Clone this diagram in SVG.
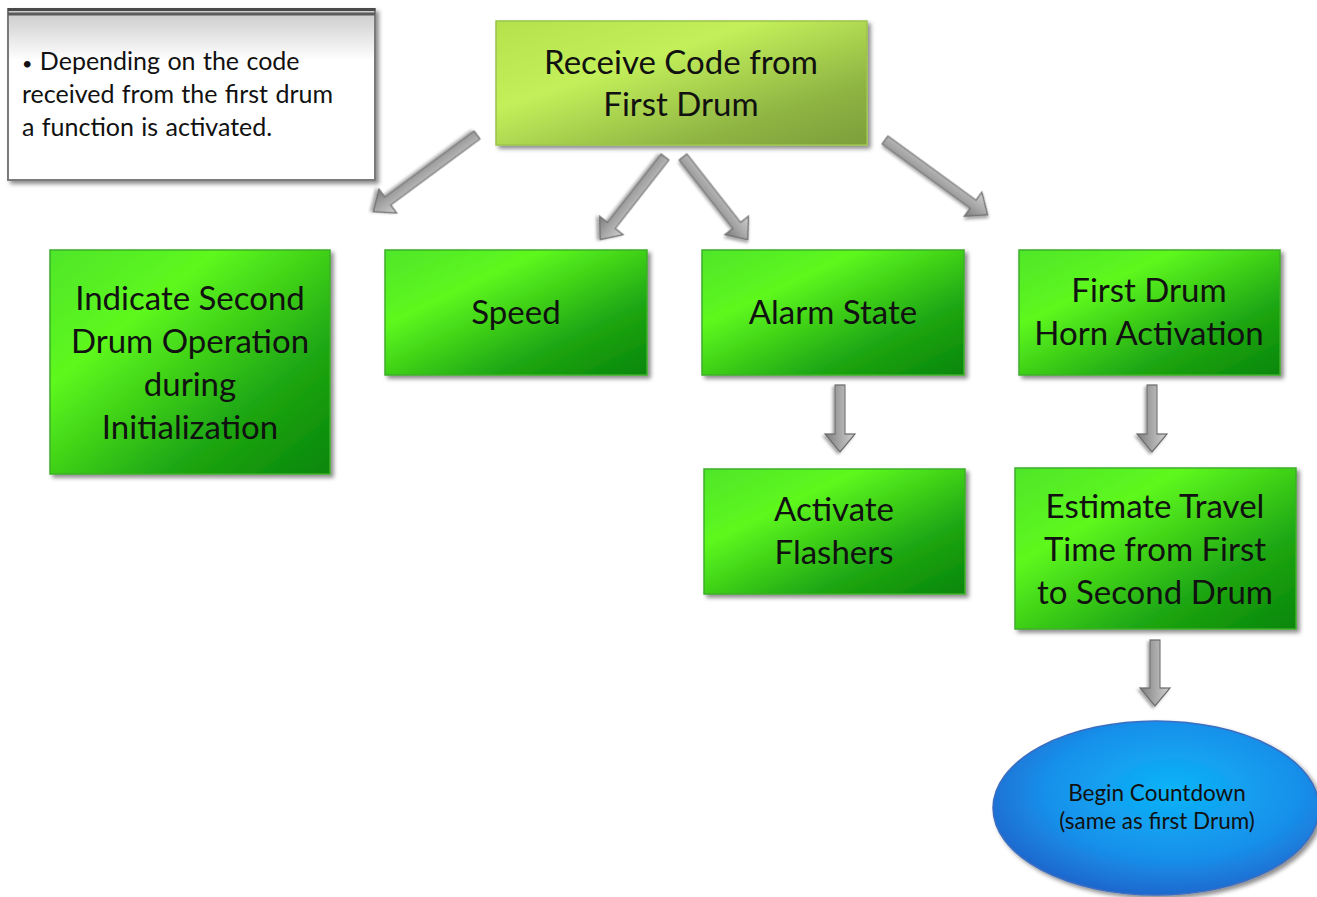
<svg xmlns="http://www.w3.org/2000/svg" width="1317" height="897" viewBox="0 0 1317 897">
<style>
.t{font-family:Lato,"Liberation Sans",sans-serif;fill:#111;text-anchor:middle}
.big{font-size:33px}
.note{font-family:Lato,"Liberation Sans",sans-serif;font-size:25px;fill:#111;word-spacing:1px}
.small{font-size:22.5px}
.box{fill:url(#gGreen);stroke:#3fae2a;stroke-width:1.5;filter:url(#sh)}
.arr{fill:url(#gArr);stroke:#6a6a6a;stroke-width:1.2;filter:url(#sh2)}
</style>
<defs>
<linearGradient id="gGreen" x1="0" y1="0" x2="1" y2="1">
<stop offset="0" stop-color="#4fe62a"/><stop offset="0.3" stop-color="#5ef81e"/><stop offset="0.7" stop-color="#1fa812"/><stop offset="1" stop-color="#07860a"/>
</linearGradient>
<linearGradient id="gTop" x1="0" y1="0" x2="1" y2="1">
<stop offset="0" stop-color="#b4e24c"/><stop offset="0.35" stop-color="#c3f05a"/><stop offset="0.75" stop-color="#8fb443"/><stop offset="1" stop-color="#7d9e3a"/>
</linearGradient>
<radialGradient id="gBlue" cx="0.55" cy="0.4" r="0.65">
<stop offset="0" stop-color="#0cb4f8"/><stop offset="0.6" stop-color="#1890ea"/><stop offset="1" stop-color="#2060c8"/>
</radialGradient>
<linearGradient id="gNote" x1="0" y1="0" x2="0" y2="1">
<stop offset="0" stop-color="#c8c8c8"/><stop offset="0.3" stop-color="#ffffff"/><stop offset="1" stop-color="#ffffff"/>
</linearGradient>
<linearGradient id="gArr" x1="0" y1="0" x2="0" y2="1">
<stop offset="0" stop-color="#d0d0d0"/><stop offset="0.5" stop-color="#a8a8a8"/><stop offset="1" stop-color="#7c7c7c"/>
</linearGradient>
<filter id="sh" x="-10%" y="-10%" width="125%" height="125%">
<feDropShadow dx="3" dy="3" stdDeviation="2" flood-color="#000" flood-opacity="0.45"/>
</filter>
<filter id="sh2" x="-20%" y="-40%" width="140%" height="180%">
<feDropShadow dx="2" dy="2" stdDeviation="1.5" flood-color="#000" flood-opacity="0.35"/>
</filter>
</defs>
<rect width="1317" height="897" fill="#fff"/>

<g id="note">
<rect x="8" y="9" width="367" height="171" fill="url(#gNote)" stroke="#7a7a7a" stroke-width="2" filter="url(#sh)"/>
<rect x="8" y="8" width="367" height="3" fill="#4a4a4a"/>
<rect x="8" y="12.5" width="367" height="3" fill="#5a5a5a"/>
<text class="note" x="22" y="70"><tspan font-size="18">•</tspan> Depending on the code</text>
<text class="note" x="22" y="103">received from the first drum</text>
<text class="note" x="22" y="136">a function is activated.</text>
</g>

<g id="connectors">
<path class="arr" transform="translate(477,135) rotate(143.5)" d="M0,-5 H111 V-15 L129,0 L111,15 V5 H0Z"/>
<path class="arr" transform="translate(665,157) rotate(128.1)" d="M0,-5 H87 V-15 L105,0 L87,15 V5 H0Z"/>
<path class="arr" transform="translate(683,157) rotate(51.9)" d="M0,-5 H87 V-15 L105,0 L87,15 V5 H0Z"/>
<path class="arr" transform="translate(885,140) rotate(36.1)" d="M0,-5 H109 V-15 L127,0 L109,15 V5 H0Z"/>
<path class="arr" transform="translate(840,385) rotate(90)" d="M0,-5 H49 V-15 L67,0 L49,15 V5 H0Z"/>
<path class="arr" transform="translate(1152,385) rotate(90)" d="M0,-5 H49 V-15 L67,0 L49,15 V5 H0Z"/>
<path class="arr" transform="translate(1155,640) rotate(90)" d="M0,-5 H48 V-15 L66,0 L48,15 V5 H0Z"/>
</g>

<g id="receive">
<rect x="496" y="21" width="371" height="124" fill="url(#gTop)" stroke="#9cc44a" stroke-width="1.5" filter="url(#sh)"/>
<text class="t big" x="681" y="74">Receive Code from</text>
<text class="t big" x="681" y="116">First Drum</text>
</g>

<g id="indicate">
<rect class="box" x="50" y="250" width="280" height="224"/>
<text class="t big" x="190" y="310">Indicate Second</text>
<text class="t big" x="190" y="353">Drum Operation</text>
<text class="t big" x="190" y="396">during</text>
<text class="t big" x="190" y="439">Initialization</text>
</g>

<g id="speed">
<rect class="box" x="385" y="250" width="262" height="125"/>
<text class="t big" x="516" y="324">Speed</text>
</g>

<g id="alarm">
<rect class="box" x="702" y="250" width="262" height="125"/>
<text class="t big" x="833" y="324">Alarm State</text>
</g>

<g id="horn">
<rect class="box" x="1019" y="250" width="261" height="125"/>
<text class="t big" x="1149" y="302">First Drum</text>
<text class="t big" x="1149" y="345">Horn Activation</text>
</g>

<g id="flashers">
<rect class="box" x="704" y="469" width="261" height="125"/>
<text class="t big" x="834" y="521">Activate</text>
<text class="t big" x="834" y="564">Flashers</text>
</g>

<g id="estimate">
<rect class="box" x="1015" y="468" width="281" height="161"/>
<text class="t big" x="1155" y="518">Estimate Travel</text>
<text class="t big" x="1155" y="561">Time from First</text>
<text class="t big" x="1155" y="604">to Second Drum</text>
</g>

<g id="countdown">
<ellipse cx="1156" cy="808" rx="163" ry="87" fill="url(#gBlue)" stroke="#3a6ec0" stroke-width="1.5" filter="url(#sh)"/>
<text class="t small" x="1157" y="801">Begin Countdown</text>
<text class="t small" x="1157" y="829">(same as first Drum)</text>
</g>
</svg>
